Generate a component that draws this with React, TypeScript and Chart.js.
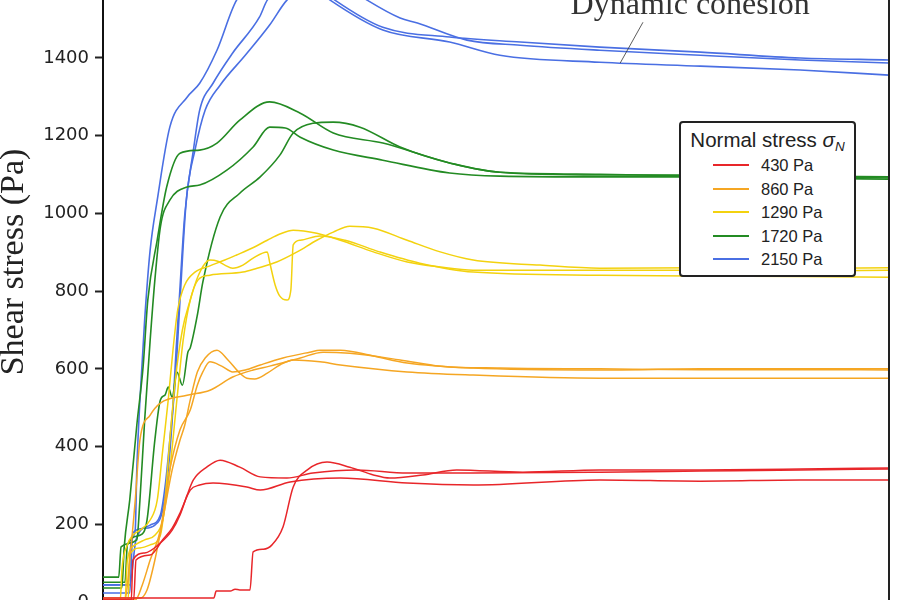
import React, { useEffect, useRef } from 'react';
import { Chart, registerables } from 'chart.js';

Chart.register(...registerables);

// ---- Data (x: shear displacement, arbitrary 0–100 units; y: shear stress in Pa) ----
const stressLabels = ['430 Pa', '860 Pa', '1290 Pa', '1720 Pa', '2150 Pa'];
const stressColors = ['#e8262a', '#f5a623', '#f3d20f', '#238b23', '#4a6fe3'];

const red1 = [[0,5],[3.6,5],[3.8,108],[5.3,126],[7.3,152],[8.8,185],[9.8,224],[10.7,275],[11.5,314],[13.2,347],[14.9,365],[17.4,347],[20.0,322],[23.4,319],[26.7,332],[32.3,340],[38.7,332],[47.1,332],[63.2,334],[76.0,337],[88.7,340],[100,342]];
const red2 = [[0,5],[3.9,5],[4.2,108],[6.0,121],[7.6,160],[8.8,190],[9.8,229],[11.1,288],[12.3,301],[14.0,306],[18.3,296],[20.0,288],[23.8,309],[30.2,319],[38.7,306],[47.1,301],[63.2,314],[76.0,311],[88.7,314],[100,314]];
const red3 = [[0,10],[14.1,10],[14.4,28],[16.2,28],[16.8,33],[17.4,31],[18.7,31],[19.1,129],[20.4,136],[21.5,147],[22.9,193],[24.2,296],[26.0,340],[28.5,360],[31.4,347],[34.4,327],[36.5,319],[40.7,327],[45.0,340],[53.4,334],[63.2,340],[76.0,340],[88.7,342],[100,345]];

const orange1 = [[0,10],[4.7,10],[5.6,31],[6.6,108],[7.6,211],[8.8,340],[9.8,417],[10.4,455],[11.1,520],[12.0,592],[13.0,628],[14.5,648],[15.9,623],[17.4,589],[18.3,576],[19.3,574],[20.9,589],[22.5,610],[24.2,623],[27.6,618],[30.2,610],[38.7,592],[47.1,584],[63.2,576],[76.0,576],[88.7,576],[100,576]];
const orange2 = [[0,5],[4.1,5],[5.0,44],[6.0,108],[7.3,185],[8.5,340],[9.8,443],[11.1,494],[12.0,558],[12.7,592],[13.6,618],[15.1,607],[16.5,592],[18.1,597],[20.0,610],[22.9,628],[26.3,643],[27.6,648],[30.2,648],[34.4,633],[38.7,615],[47.1,602],[63.2,597],[76.0,600],[88.7,600],[100,600]];
const orange3 = [[0,5],[2.8,5],[3.4,108],[4.1,262],[4.7,417],[6.0,481],[7.3,512],[10.7,532],[13.6,545],[16.5,579],[19.1,597],[21.2,607],[25.1,628],[28.0,643],[31.4,640],[37.8,623],[42.9,607],[50.5,602],[63.2,600],[76.0,598],[88.7,598],[100,597]];

const yellow1 = [[0,5],[2.2,5],[2.4,82],[3.1,147],[3.8,172],[4.7,185],[6.0,211],[6.9,262],[7.6,391],[8.3,520],[8.9,648],[9.5,751],[10.4,816],[11.7,849],[13.6,865],[15.5,880],[17.0,893],[19.0,911],[20.9,931],[22.5,947],[24.2,957],[27.2,949],[30.2,931],[34.4,901],[38.7,875],[42.9,862],[47.1,854],[63.2,854],[76.0,854],[88.7,852],[100,854]];
const yellow2 = [[0,5],[2.8,5],[3.1,108],[4.1,147],[5.3,160],[6.6,172],[7.6,211],[8.5,340],[9.4,520],[10.2,674],[11.1,777],[12.1,829],[13.6,841],[17.8,849],[19.6,859],[22.1,875],[24.7,901],[27.2,931],[29.3,952],[31.4,967],[34.4,962],[38.7,931],[42.9,901],[47.1,880],[55.6,867],[63.2,859],[76.0,860],[88.7,859],[100,860]];
const yellow3 = [[0,5],[3.2,5],[3.4,121],[4.7,139],[6.0,147],[7.3,172],[7.9,262],[8.5,417],[9.2,571],[10.1,700],[11.1,777],[12.0,834],[13.0,872],[13.6,880],[14.6,877],[15.5,867],[16.5,859],[17.8,867],[19.1,885],[20.9,901],[21.2,875],[21.9,816],[22.5,787],[23.4,777],[23.9,803],[24.2,919],[25.1,931],[27.6,942],[30.8,931],[35.2,901],[40.3,872],[47.1,849],[63.2,841],[76.0,839],[88.7,838],[100,836]];

const green1 = [[0,36],[2.4,36],[2.7,142],[3.4,262],[4.3,455],[5.1,605],[5.7,777],[6.9,932],[8.1,1068],[9.8,1155],[12.3,1163],[14.5,1181],[17.4,1240],[21.2,1287],[25.1,1258],[29.3,1207],[35.6,1181],[44.1,1130],[50.5,1106],[63.2,1101],[76.0,1096],[88.7,1094],[100,1091]];
const green2 = [[0,64],[2.0,64],[2.3,142],[4.3,160],[4.7,262],[5.3,468],[6.0,674],[6.6,829],[7.3,965],[8.5,1034],[10.7,1068],[12.3,1073],[15.8,1112],[19.1,1171],[21.2,1222],[23.2,1220],[25.1,1196],[29.3,1163],[35.6,1137],[44.1,1104],[50.5,1096],[63.2,1094],[76.0,1094],[88.7,1091],[100,1088]];
const green3 = [[0,51],[2.8,51],[3.1,147],[4.7,172],[5.6,211],[6.6,417],[7.3,520],[7.9,533],[8.3,553],[8.8,527],[9.4,592],[10.1,558],[10.8,643],[11.1,654],[12.0,738],[12.7,823],[14.9,991],[17.4,1052],[20.0,1094],[22.5,1150],[24.2,1207],[26.7,1232],[29.3,1235],[32.7,1222],[37.8,1171],[44.1,1130],[50.5,1106],[63.2,1099],[76.0,1099],[88.7,1096],[100,1094]];

const blue1 = [[0,44],[3.2,44],[3.6,160],[4.1,185],[4.3,340],[4.7,520],[5.3,726],[6.0,906],[6.9,1034],[8.5,1222],[10.7,1299],[12.3,1335],[14.5,1420],[17.0,1549],[19.9,1595],[22.9,1610],[26.3,1590],[28.9,1549],[35.6,1472],[44.1,1441],[50.5,1407],[63.2,1389],[76.0,1379],[88.7,1369],[100,1356]];
const blue2 = [[0,23],[3.4,23],[3.8,178],[5.3,190],[6.6,198],[7.6,237],[8.3,340],[8.8,468],[9.3,649],[9.7,777],[10.4,996],[11.5,1163],[12.3,1266],[14.0,1335],[16.5,1413],[19.9,1505],[20.9,1549],[23.8,1595],[26.3,1600],[29.5,1549],[35.6,1479],[44.1,1454],[53.1,1441],[63.2,1428],[76.0,1415],[88.7,1400],[100,1395]];
const blue3 = [[0,44],[3.4,44],[4.2,160],[6.0,198],[7.3,224],[8.0,314],[8.5,417],[9.2,571],[9.8,777],[10.6,1034],[11.7,1163],[13.0,1266],[14.9,1330],[18.1,1407],[21.2,1485],[23.4,1549],[27.6,1610],[30.2,1595],[33.6,1549],[37.8,1503],[40.0,1490],[46.3,1446],[53.1,1433],[63.2,1420],[76.0,1407],[88.7,1395],[100,1387]];

const runsByStress = [
  [red1, red2, red3],
  [orange1, orange2, orange3],
  [yellow1, yellow2, yellow3],
  [green1, green2, green3],
  [blue1, blue2, blue3],
];

const yTitle = 'Shear stress (Pa)';
const yMin = 0;
const yMax = 1750;
const yStep = 200;
const xMin = 0;
const xMax = 100;

const annotationText = 'Dynamic cohesion';
const annotationTextAt = [74.7, 1513];
const annotationLeader = [[68.7, 1492], [65.8, 1387]];

const framePlugin = {
  id: 'frameAndNote',
  afterDatasetsDraw(chart: any) {
    const { ctx, chartArea, scales } = chart;
    const x = scales.x;
    const y = scales.y;
    ctx.save();
    // right spine
    ctx.strokeStyle = '#222';
    ctx.lineWidth = 2;
    ctx.beginPath();
    ctx.moveTo(chartArea.right, chartArea.top);
    ctx.lineTo(chartArea.right, chartArea.bottom);
    ctx.stroke();
    // annotation leader line
    ctx.strokeStyle = '#333';
    ctx.lineWidth = 0.8;
    ctx.beginPath();
    ctx.moveTo(x.getPixelForValue(annotationLeader[0][0]), y.getPixelForValue(annotationLeader[0][1]));
    ctx.lineTo(x.getPixelForValue(annotationLeader[1][0]), y.getPixelForValue(annotationLeader[1][1]));
    ctx.stroke();
    // annotation text
    ctx.fillStyle = '#333';
    ctx.font = '32px "Liberation Serif", "Times New Roman", serif';
    ctx.textAlign = 'center';
    ctx.textBaseline = 'alphabetic';
    ctx.fillText(annotationText, x.getPixelForValue(annotationTextAt[0]), y.getPixelForValue(annotationTextAt[1]));
    ctx.restore();
  },
};

export default function App() {
  const canvasRef = useRef<HTMLCanvasElement | null>(null);

  useEffect(() => {
    if (!canvasRef.current) return;
    const datasets: any[] = [];
    runsByStress.forEach((runs, i) => {
      runs.forEach((run, j) => {
        datasets.push({
          label: `${stressLabels[i]} #${j + 1}`,
          data: run.map(([xv, yv]) => ({ x: xv, y: yv })),
          borderColor: stressColors[i],
          backgroundColor: stressColors[i],
          borderWidth: i >= 3 ? 1.6 : 1.5,
          pointRadius: 0,
          fill: false,
          cubicInterpolationMode: 'monotone',
        });
      });
    });

    const chart = new Chart(canvasRef.current, {
      type: 'line',
      data: { datasets },
      options: {
        animation: false,
        responsive: false,
        devicePixelRatio: 1,
        layout: { padding: { top: 22, bottom: 18, left: 0, right: 11 } },
        plugins: { legend: { display: false }, tooltip: { enabled: false }, title: { display: false } },
        scales: {
          x: { type: 'linear', min: xMin, max: xMax, display: false },
          y: {
            type: 'linear',
            min: yMin,
            max: yMax,
            afterFit: (scale: any) => { scale.width = 103; },
            ticks: {
              stepSize: yStep,
              includeBounds: false,
              padding: 6,
              color: '#222',
              font: { family: '"DejaVu Sans", sans-serif', size: 18 },
              callback: (value: any) => String(value),
            },
            grid: {
              display: true,
              drawOnChartArea: false,
              drawTicks: true,
              tickLength: 8,
              tickWidth: 2,
              tickColor: '#222',
            },
            border: { display: true, color: '#111', width: 2 },
            title: {
              display: true,
              text: yTitle,
              color: '#222',
              font: { family: '"Liberation Serif", "Times New Roman", serif', size: 34, lineHeight: 0.85 },
              padding: 0,
            },
          },
        },
      },
      plugins: [framePlugin],
    } as any);
    return () => chart.destroy();
  }, []);

  return (
    <div style={{ position: 'fixed', left: 0, top: 0, width: 900, height: 600, overflow: 'hidden', background: '#fff' }}>
      <canvas
        ref={canvasRef}
        width={900}
        height={720}
        style={{ position: 'absolute', left: 0, top: -100, width: 900, height: 720 }}
      />
      <div
        style={{
          position: 'absolute', left: 679, top: 121, width: 177, height: 156,
          boxSizing: 'border-box', border: '2px solid #222', borderRadius: 4, background: '#fff',
          fontFamily: '"Liberation Sans", Arial, sans-serif', color: '#222',
        }}
      >
        <div style={{ position: 'absolute', left: 0, right: 0, top: 5, textAlign: 'center', fontSize: 20.5, lineHeight: '24px', whiteSpace: 'nowrap' }}>
          Normal stress <i>σ</i><sub style={{ fontSize: 13.5, fontStyle: 'italic', verticalAlign: -4 }}>N</sub>
        </div>
        {stressLabels.map((lab, i) => (
          <div key={lab} style={{ position: 'absolute', left: 0, top: 31 + i * 23.6, height: 22, width: '100%' }}>
            <div style={{ position: 'absolute', left: 32, top: 10, width: 36, height: 2, background: stressColors[i] }} />
            <div style={{ position: 'absolute', left: 80, top: 0, fontSize: 16.5, lineHeight: '22px', whiteSpace: 'nowrap' }}>{lab}</div>
          </div>
        ))}
      </div>
    </div>
  );
}
